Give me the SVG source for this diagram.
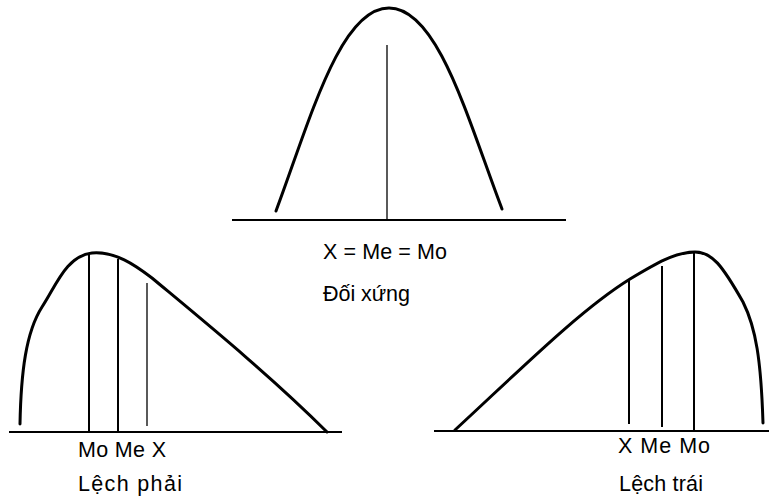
<svg xmlns="http://www.w3.org/2000/svg" width="769" height="504" viewBox="0 0 769 504">
<style>
.curve{fill:none;stroke:#000;stroke-width:3;stroke-linecap:round;stroke-linejoin:round}
.axis{stroke:#000;stroke-width:2}
.mark{stroke:#000;stroke-width:2}
.thin{stroke:#000;stroke-width:1.3}
text{font-family:"Liberation Sans",Arial,sans-serif;font-size:21.5px;fill:#000}
</style>
<rect width="769" height="504" fill="#fff"/>
<g id="symmetric">
<path class="curve" d="M276,211 C310,120 340,8 389,8 C438,8 468,120 502,209"/>
<line class="axis" x1="232" y1="220" x2="566" y2="220"/>
<line class="thin" x1="387" y1="45" x2="387" y2="220"/>
<text x="323" y="259" textLength="124" lengthAdjust="spacing">X = Me = Mo</text>
<text x="323" y="301" textLength="87" lengthAdjust="spacing">Đối xứng</text>
</g>
<g id="right-skew">
<path class="curve" d="M20,424 C21,372 26,332 42,307 C56,286 66,256 92,253 C115,251 135,265 152,278 C200,318 270,375 327,432"/>
<line class="axis" x1="9" y1="432" x2="342" y2="432"/>
<line class="mark" x1="89" y1="253" x2="89" y2="432"/>
<line class="mark" x1="118" y1="259" x2="118" y2="432"/>
<line class="thin" x1="147" y1="283" x2="147" y2="426"/>
<text x="78" y="457" textLength="88" lengthAdjust="spacing">Mo Me X</text>
<text x="78" y="491" textLength="104" lengthAdjust="spacing">Lệch phải</text>
</g>
<g id="left-skew">
<path class="curve" d="M455,430 C520,370 580,310 630,279 C655,264 675,252 695,252 C712,252 722,265 743,302 C756,328 761,360 763,423"/>
<line class="axis" x1="434" y1="431" x2="769" y2="431"/>
<line class="mark" x1="629" y1="280" x2="629" y2="424"/>
<line class="mark" x1="662" y1="266" x2="662" y2="427"/>
<line class="mark" x1="694" y1="252" x2="694" y2="431"/>
<text x="618" y="453" textLength="92" lengthAdjust="spacing">X Me Mo</text>
<text x="619" y="491" textLength="84" lengthAdjust="spacing">Lệch trái</text>
</g>
<g id="connectors"/>
</svg>
